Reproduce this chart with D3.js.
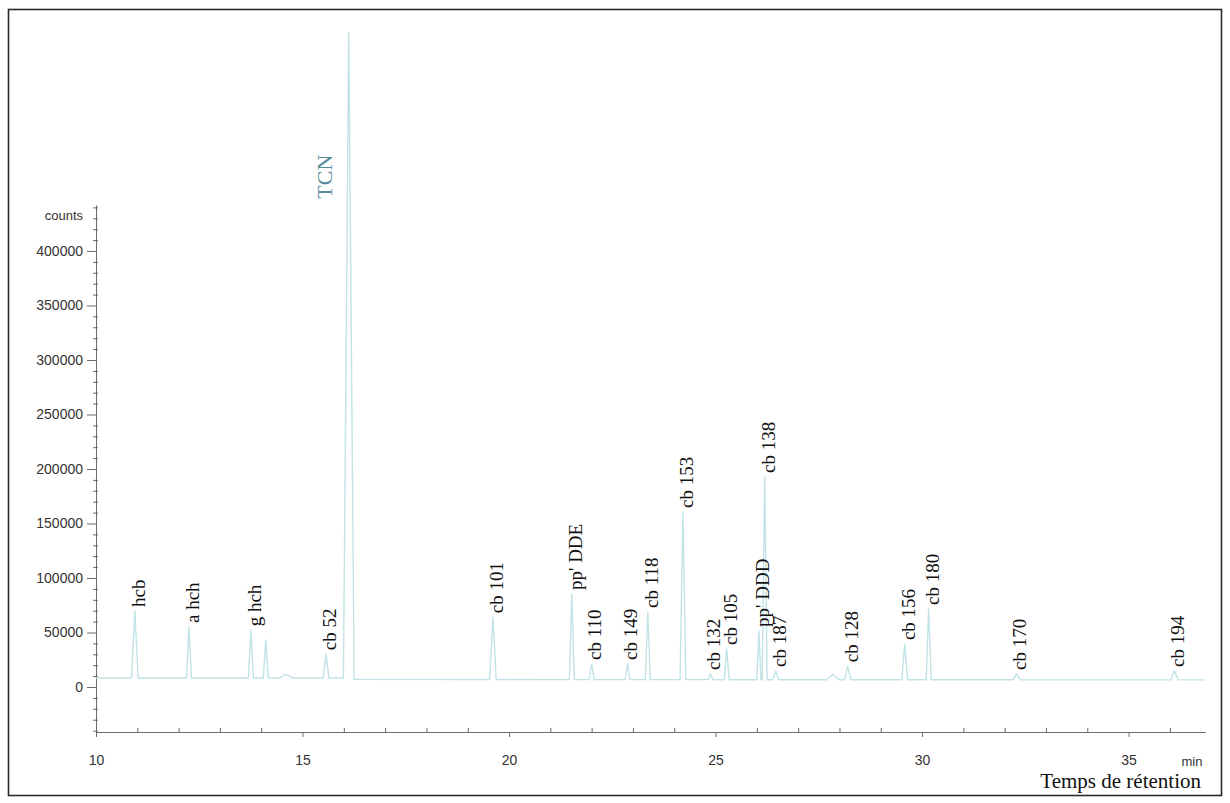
<!DOCTYPE html>
<html>
<head>
<meta charset="utf-8">
<script src="https://cdn.jsdelivr.net/npm/d3@7"></script>
<style>
  body { margin: 0; background: #fff; }
  svg { display: block; }
</style>
</head>
<body>
<svg id="chart" width="1230" height="803"></svg>
<script>
// Chromatogram peaks: compound name, retention time (min), apex counts, half base width (min)
const peakNames = ["hcb", "a hch", "g hch", "", "", "cb 52", "TCN", "cb 101", "pp' DDE", "cb 110",
  "cb 149", "cb 118", "cb 153", "cb 132", "cb 105", "pp' DDD", "cb 138", "cb 187", "", "cb 128",
  "cb 156", "cb 180", "cb 170", "cb 194"];
const peakTimes = [10.94, 12.25, 13.75, 14.11, 14.6, 15.57, 16.12, 19.61, 21.52, 22.0,
  22.87, 23.36, 24.21, 24.88, 25.27, 26.05, 26.19, 26.46, 27.84, 28.2,
  29.58, 30.16, 32.29, 36.11];
const peakCounts = [69700, 55000, 52000, 43000, 11500, 30000, 600000, 64000, 85300, 21100,
  21100, 68800, 160600, 12000, 34900, 51400, 192700, 14700, 11500, 19000,
  39400, 71600, 12000, 14700];
const peakHalfWidths = [0.08, 0.06, 0.06, 0.06, 0.15, 0.07, 0.13, 0.08, 0.06, 0.06,
  0.06, 0.06, 0.07, 0.06, 0.06, 0.05, 0.06, 0.07, 0.15, 0.08,
  0.07, 0.06, 0.09, 0.09];

// Detector baseline (min, counts)
const baseTimes = [10, 16.0, 16.3, 36.85];
const baseCounts = [8300, 8300, 6900, 6500];

// Axis ticks
const xTickValues = [10, 15, 20, 25, 30, 35];
const xMinorTicks = d3.range(11, 37, 1).filter(v => v % 5 !== 0);
const yTickValues = [0, 50000, 100000, 150000, 200000, 250000, 300000, 350000, 400000];
const yMinorTicks = d3.range(-40000, 440001, 10000).filter(v => v % 50000 !== 0);

const svg = d3.select("#chart");

// outer frame
svg.append("rect")
  .attr("x", 8.5).attr("y", 9.5)
  .attr("width", 1213).attr("height", 786)
  .attr("fill", "none").attr("stroke", "#2a2a2a").attr("stroke-width", 1.6);

const x = d3.scaleLinear().domain([10, 36.85]).range([96, 1205]);
const y = d3.scaleLinear().domain([-41000, 442000]).range([731.7, 205.2]);

const baseAt = d3.scaleLinear().domain(baseTimes).range(baseCounts);

// axes
const axisColor = "#6a6a6a";
const gY = svg.append("g").attr("transform", "translate(96,0)")
  .call(d3.axisLeft(y).tickValues(yTickValues).tickFormat(d3.format("d"))
    .tickSize(9).tickSizeOuter(0).tickPadding(4));
const gYm = svg.append("g").attr("transform", "translate(96,0)")
  .call(d3.axisLeft(y).tickValues(yMinorTicks).tickFormat("").tickSize(3).tickSizeOuter(0));
const gYm2 = svg.append("g").attr("transform", "translate(96,0)")
  .call(d3.axisRight(y).tickValues(yMinorTicks).tickFormat("").tickSize(2).tickSizeOuter(0));
gYm2.select(".domain").remove();

const gX = svg.append("g").attr("transform", "translate(0,732)")
  .call(d3.axisBottom(x).tickValues(xTickValues).tickFormat(d3.format("d"))
    .tickSize(5).tickSizeOuter(0).tickPadding(18));
const gXm = svg.append("g").attr("transform", "translate(0,732)")
  .call(d3.axisTop(x).tickValues(xMinorTicks).tickFormat("").tickSize(4).tickSizeOuter(0));

[gY, gYm, gYm2, gX, gXm].forEach(g => {
  g.selectAll(".domain, line").attr("stroke", axisColor).attr("stroke-width", 1);
  g.selectAll("text")
    .attr("font-family", "'Liberation Sans', Arial, sans-serif")
    .attr("font-size", 14).attr("fill", "#333");
});

svg.append("text")
  .attr("x", 83).attr("y", 215).attr("dy", "0.35em")
  .attr("text-anchor", "end")
  .attr("font-family", "'Liberation Sans', Arial, sans-serif")
  .attr("font-size", 13).attr("fill", "#333")
  .text("counts");

svg.append("text")
  .attr("x", 1192).attr("y", 766)
  .attr("text-anchor", "middle")
  .attr("font-family", "'Liberation Sans', Arial, sans-serif")
  .attr("font-size", 13).attr("fill", "#333")
  .text("min");

svg.append("text")
  .attr("x", 1201).attr("y", 788)
  .attr("text-anchor", "end")
  .attr("font-family", "'Liberation Serif', 'Times New Roman', serif")
  .attr("font-size", 21).attr("fill", "#111")
  .text("Temps de rétention");

// trace: baseline segments joined by triangular peaks
const peaks = peakTimes.map((t, i) => ({
  name: peakNames[i], t, c: peakCounts[i], w: peakHalfWidths[i]
})).sort((a, b) => a.t - b.t);

const pts = [[baseTimes[0], baseCounts[0]]];
peaks.forEach(p => {
  pts.push([p.t - p.w, baseAt(p.t - p.w)]);
  pts.push([p.t, p.c]);
  pts.push([p.t + p.w, baseAt(p.t + p.w)]);
});
pts.push([baseTimes[baseTimes.length - 1], baseCounts[baseCounts.length - 1]]);

const line = d3.line().x(d => x(d[0])).y(d => y(d[1]));
svg.append("path")
  .attr("d", line(pts))
  .attr("fill", "none")
  .attr("stroke", "#c2e3e6")
  .attr("stroke-width", 1.4)
  .attr("stroke-linejoin", "round");

// peak labels, written upward from just above each apex
const labelled = peaks.filter(p => p.name && p.name !== "TCN");
svg.append("g").selectAll("text")
  .data(labelled)
  .join("text")
  .attr("transform", d => `translate(${x(d.t) + 3},${y(d.c) - 4}) rotate(-90)`)
  .attr("dy", "0.36em")
  .attr("text-anchor", "start")
  .attr("font-family", "'Liberation Serif', 'Times New Roman', serif")
  .attr("font-size", 19)
  .attr("fill", "#111")
  .text(d => d.name);

// internal standard label, placed beside its off-scale peak
const tcn = peaks.find(p => p.name === "TCN");
svg.append("text")
  .attr("transform", `translate(${x(tcn.t) - 25},${y(448000)}) rotate(-90)`)
  .attr("dy", "0.36em")
  .attr("text-anchor", "start")
  .attr("font-family", "'Liberation Serif', 'Times New Roman', serif")
  .attr("font-size", 22)
  .attr("fill", "#5a8d9b")
  .text("TCN");
</script>
</body>
</html>
